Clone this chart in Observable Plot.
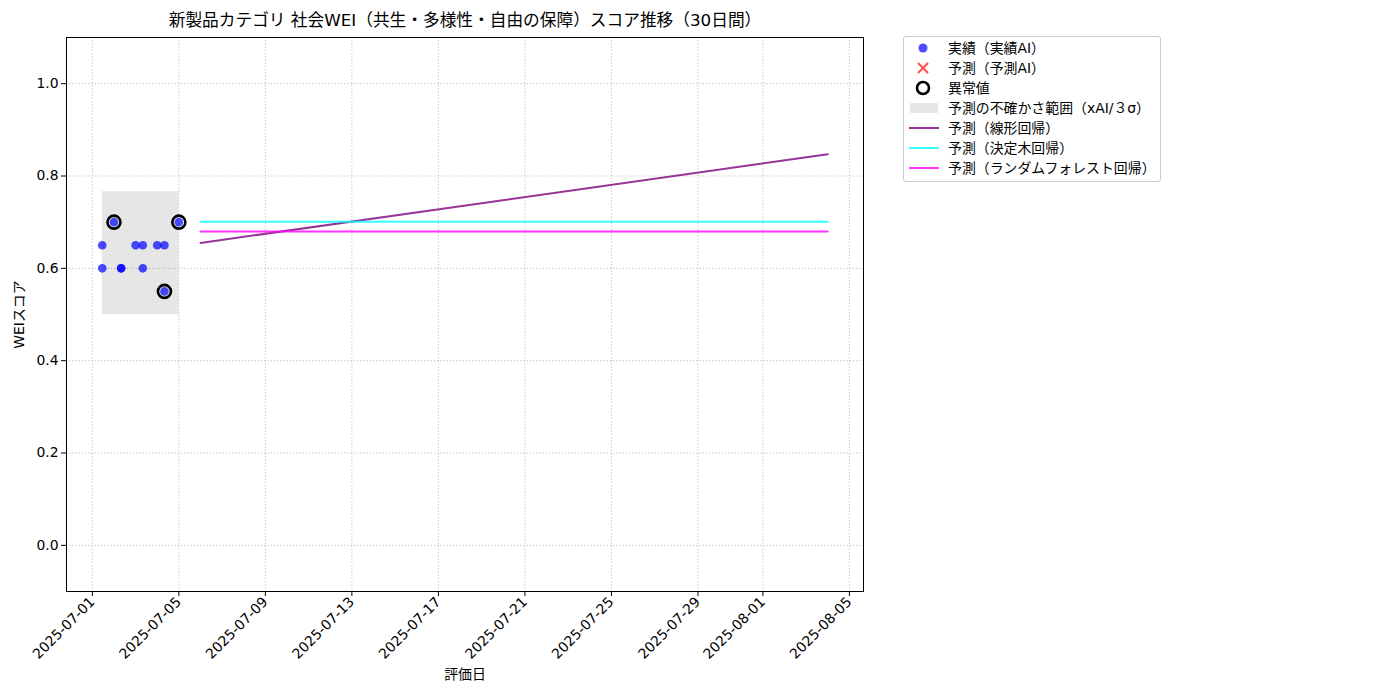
<!DOCTYPE html>
<html>
<head>
<meta charset="utf-8">
<script src="https://cdn.jsdelivr.net/npm/d3@7"></script>
<script src="https://cdn.jsdelivr.net/npm/@observablehq/plot@0.6"></script>
<style>
  body { margin: 0; background: #fff; font-family: "DejaVu Sans", "Noto Sans CJK JP", sans-serif; }
  #wrap { position: relative; width: 1400px; height: 700px; }
  #legend { position: absolute; left: 903px; top: 36px; width: 258px; height: 146px;
    border: 1px solid #cccccc; border-radius: 3px; background: #fff; box-sizing: border-box;
    font-size: 13.9px; color: #000; font-family: "DejaVu Sans", "Noto Sans CJK JP", sans-serif; }
  .row { position: absolute; left: 0; height: 20px; }
  .row svg { position: absolute; left: 3px; top: 0; }
  .row span { position: absolute; left: 44px; top: 0; white-space: nowrap; line-height: 20px; }
</style>
</head>
<body>
<div id="wrap">
  <div id="chart"></div>
  <div id="legend"></div>
</div>
<script>
// ---- data ----
const titleText = "新製品カテゴリ 社会WEI（共生・多様性・自由の保障）スコア推移（30日間）";
const actualDates = ["2025-07-01T11:00Z","2025-07-01T11:00Z","2025-07-02T00:00Z","2025-07-02T08:00Z","2025-07-02T08:00Z","2025-07-03T00:00Z","2025-07-03T08:00Z","2025-07-03T08:00Z","2025-07-04T00:00Z","2025-07-04T08:00Z","2025-07-04T08:00Z","2025-07-05T00:00Z"];
const actualValues = [0.65, 0.60, 0.70, 0.60, 0.60, 0.65, 0.65, 0.60, 0.65, 0.65, 0.55, 0.70];
const outlierDates = ["2025-07-02T00:00Z","2025-07-04T08:00Z","2025-07-05T00:00Z"];
const outlierValues = [0.70, 0.55, 0.70];
const bandDates = ["2025-07-01T11:00Z","2025-07-05T00:00Z"];
const bandLow = [0.50, 0.50];
const bandHigh = [0.766, 0.766];
const predDates = ["2025-07-06T00:00Z","2025-08-04T00:00Z"];
const linearValues = [0.655, 0.847];
const treeValues = [0.701, 0.701];
const forestValues = [0.680, 0.680];
const xTickLabels = ["2025-07-01","2025-07-05","2025-07-09","2025-07-13","2025-07-17","2025-07-21","2025-07-25","2025-07-29","2025-08-01","2025-08-05"];
const yTickValues = [0.0, 0.2, 0.4, 0.6, 0.8, 1.0];
const xDomain = ["2025-06-29T19:20Z","2025-08-05T15:40Z"];
const yDomain = [-0.1, 1.1];
const legendLabels = ["実績（実績AI）","予測（予測AI）","異常値","予測の不確かさ範囲（xAI/３σ）","予測（線形回帰）","予測（決定木回帰）","予測（ランダムフォレスト回帰）"];

// ---- build tables ----
const P = s => new Date(s);
const actual = actualDates.map((d, i) => ({date: P(d), value: actualValues[i]}));
const outliers = outlierDates.map((d, i) => ({date: P(d), value: outlierValues[i]}));
const band = [{x1: P(bandDates[0]), x2: P(bandDates[1]), y1: bandLow[0], y2: bandHigh[0]}];
const mk = vals => predDates.map((d, i) => ({date: P(d), value: vals[i]}));
const linear = mk(linearValues), tree = mk(treeValues), forest = mk(forestValues);
const xTicks = xTickLabels.map(s => new Date(s + "T00:00Z"));

const colors = {
  actual: "#0000ff", pred: "#ff0000", linear: "#800080", tree: "#00ffff", forest: "#ff00ff"
};
const FONT = '"DejaVu Sans", "Noto Sans CJK JP", sans-serif';

const chart = Plot.plot({
  width: 1400, height: 700,
  marginLeft: 66, marginRight: 537, marginTop: 37, marginBottom: 109,
  style: {fontFamily: FONT, fontSize: "13.9px", color: "#000", background: "#fff"},
  x: {type: "utc", domain: xDomain.map(P)},
  y: {domain: yDomain},
  marks: [
    Plot.gridX(xTicks, {stroke: "#b0b0b0", strokeOpacity: 0.8, strokeDasharray: "1.2,2"}),
    Plot.gridY(yTickValues, {stroke: "#b0b0b0", strokeOpacity: 0.8, strokeDasharray: "1.2,2"}),
    Plot.rect(band, {x1: "x1", x2: "x2", y1: "y1", y2: "y2", fill: "#808080", fillOpacity: 0.2}),
    Plot.line(linear, {x: "date", y: "value", stroke: colors.linear, strokeOpacity: 0.8, strokeWidth: 2}),
    Plot.line(tree, {x: "date", y: "value", stroke: colors.tree, strokeOpacity: 0.8, strokeWidth: 2}),
    Plot.line(forest, {x: "date", y: "value", stroke: colors.forest, strokeOpacity: 0.8, strokeWidth: 2}),
    Plot.dot(actual, {x: "date", y: "value", r: 4.3, fill: colors.actual, fillOpacity: 0.7, stroke: "none"}),
    Plot.dot(outliers, {x: "date", y: "value", r: 6.5, fill: "none", stroke: "#000", strokeWidth: 2.6}),
    Plot.axisY({ticks: yTickValues, tickFormat: d3.format(".1f"), tickSize: 5, tickPadding: 3,
      label: "WEIスコア", labelAnchor: "center", labelArrow: "none", labelOffset: 52, fontSize: 13.9}),
    Plot.axisX({ticks: xTicks, tickFormat: d3.utcFormat("%Y-%m-%d"), tickRotate: -45, tickSize: 5, tickPadding: 3,
      label: "評価日", labelAnchor: "center", labelArrow: "none", labelOffset: 87, fontSize: 13.9}),
    Plot.frame({stroke: "#000", strokeWidth: 1}),
    Plot.text([titleText], {frameAnchor: "top", dy: -17, lineAnchor: "middle", fontSize: 16.7, fill: "#000"})
  ]
});
document.getElementById("chart").appendChild(chart);

// ---- legend ----
const legend = document.getElementById("legend");
const rowTops = [11, 31, 51, 71, 91, 111, 131];
const symbols = [
  `<svg width="36" height="20"><circle cx="16" cy="10" r="4.5" fill="#0000ff" fill-opacity="0.7"/></svg>`,
  `<svg width="36" height="20"><path d="M11 5 L21 15 M21 5 L11 15" stroke="#ff0000" stroke-opacity="0.7" stroke-width="2"/></svg>`,
  `<svg width="36" height="20"><circle cx="16" cy="10" r="6" fill="none" stroke="#000" stroke-width="2.6"/></svg>`,
  `<svg width="36" height="20"><rect x="3" y="5" width="28" height="10" fill="#808080" fill-opacity="0.2"/></svg>`,
  `<svg width="36" height="20"><line x1="2" x2="32" y1="10" y2="10" stroke="#800080" stroke-opacity="0.8" stroke-width="2"/></svg>`,
  `<svg width="36" height="20"><line x1="2" x2="32" y1="10" y2="10" stroke="#00ffff" stroke-opacity="0.8" stroke-width="2"/></svg>`,
  `<svg width="36" height="20"><line x1="2" x2="32" y1="10" y2="10" stroke="#ff00ff" stroke-opacity="0.8" stroke-width="2"/></svg>`
];
legendLabels.forEach((lab, i) => {
  const row = document.createElement("div");
  row.className = "row";
  row.style.top = (rowTops[i] - 10) + "px";
  row.innerHTML = symbols[i] + `<span>${lab}</span>`;
  legend.appendChild(row);
});
</script>
</body>
</html>
